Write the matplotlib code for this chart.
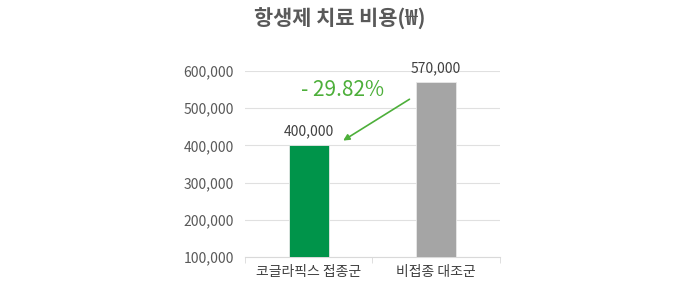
import numpy as np
import matplotlib.pyplot as plt
from matplotlib.ticker import FuncFormatter

plt.rcParams['font.family'] = ['Noto Sans CJK KR', 'DejaVu Sans']

groups = ['코글라픽스 접종군', '비접종 대조군']
costs = [400000, 570000]
colors = ['#00944A', '#A5A5A5']
yticks = [100000, 200000, 300000, 400000, 500000, 600000]

fig = plt.figure(figsize=(6.8, 2.91), dpi=100)
ax = fig.add_axes([0.36, 0.117, 0.375, 0.639])

x = np.arange(len(groups))
w = 0.314
ax.bar(x, costs, width=w, color=colors, edgecolor='#E8E8E8', linewidth=0.6, zorder=3)

for xi, v in zip(x, costs):
    ax.text(xi, v + 18000, f'{v:,}', ha='center', va='bottom', fontsize=10, color='#404040')

ax.set_xlim(-0.5, 1.5)
ax.set_ylim(100000, 600000)
ax.set_yticks(yticks)
ax.yaxis.set_major_formatter(FuncFormatter(lambda v, p: f'{int(v):,}'))
ax.set_xticks(x)
ax.set_xticklabels(groups)
ax.set_xticks([-0.5, 0.5, 1.5], minor=True)
ax.tick_params(axis='x', which='major', length=0, labelsize=10, labelcolor='#404040', pad=6)
ax.tick_params(axis='x', which='minor', length=4, color='#D9D9D9')
ax.tick_params(axis='y', length=0, labelsize=10, labelcolor='#595959', pad=8)
ax.grid(axis='y', color='#E0E0E0', linewidth=0.8, zorder=0)
for s in ['top', 'right', 'left']:
    ax.spines[s].set_visible(False)
ax.spines['bottom'].set_color('#D9D9D9')

# percent change annotation
change = (costs[0] - costs[1]) / costs[1] * 100
green = '#4DAF3A'
ax.text(0.27, 548000, f'- {abs(change):.2f}%', ha='center', va='center',
        fontsize=15, color=green)
ax.annotate('', xy=(0.253, 409000), xytext=(0.81, 528000),
            arrowprops=dict(arrowstyle='-|>', color=green, lw=1.2, mutation_scale=9))

fig.text(0.5, 0.935, '항생제 치료 비용(₩)', ha='center', va='center',
         fontsize=15, color='#595959', fontweight='bold')

fig.savefig('out.png', dpi=100)
